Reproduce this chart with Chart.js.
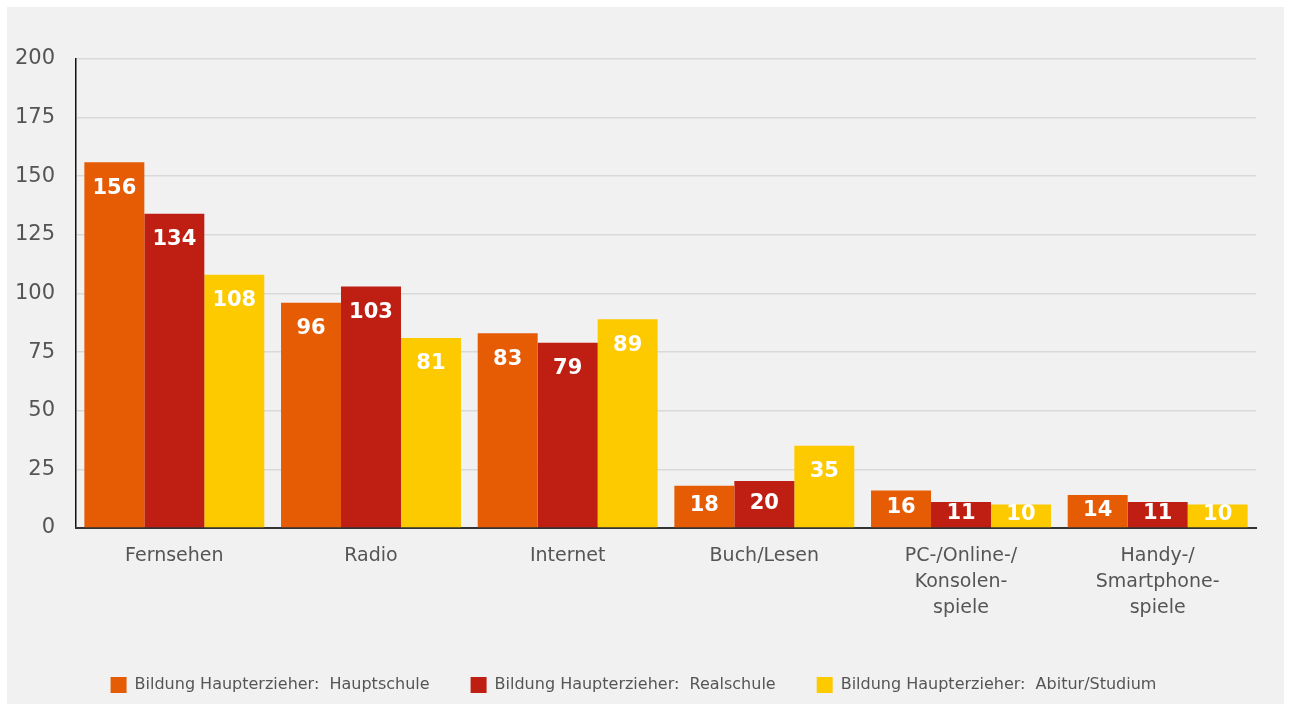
<!DOCTYPE html>
<html lang="de">
<head>
<meta charset="utf-8">
<title>Mediennutzung nach Bildung</title>
<script src="https://cdn.jsdelivr.net/npm/chart.js@4.4.1/dist/chart.umd.min.js"></script>
<style>
    html, body { margin: 0; padding: 0; background: #ffffff; }
    .panel {
        position: absolute;
        left: 7px; top: 7px;
        width: 1277px; height: 697px;
        background: #f1f1f1;
    }
    canvas { display: block; }
</style>
</head>
<body>
<div class="panel"><canvas id="chart" width="1277" height="697"></canvas></div>
<script>
const categories = [
    'Fernsehen',
    'Radio',
    'Internet',
    'Buch/Lesen',
    ['PC-/Online-/', 'Konsolen-', 'spiele'],
    ['Handy-/', 'Smartphone-', 'spiele']
];
const seriesNames = [
    'Bildung Haupterzieher:  Hauptschule',
    'Bildung Haupterzieher:  Realschule',
    'Bildung Haupterzieher:  Abitur/Studium'
];
const hauptschule = [156, 96, 83, 18, 16, 14];
const realschule = [134, 103, 79, 20, 11, 11];
const abitur = [108, 81, 89, 35, 10, 10];
const colors = ['#e65c05', '#be1f12', '#fdca00'];

const FONT = "'DejaVu Sans', sans-serif";

// white value labels inside each bar, near its top
const valueLabels = {
    id: 'valueLabels',
    afterDatasetsDraw(chart) {
        const ctx = chart.ctx;
        ctx.save();
        ctx.fillStyle = '#ffffff';
        ctx.font = 'bold 21px ' + FONT;
        ctx.textAlign = 'center';
        ctx.textBaseline = 'middle';
        chart.data.datasets.forEach((ds, i) => {
            chart.getDatasetMeta(i).data.forEach((bar, j) => {
                const y = Math.min(bar.y + 26, (bar.y + bar.base) / 2 - 1);
                ctx.fillText(String(ds.data[j]), bar.x, y);
            });
        });
        ctx.restore();
    }
};

const datasets = [hauptschule, realschule, abitur].map((values, i) => ({
    label: seriesNames[i],
    data: values,
    backgroundColor: colors[i],
    borderWidth: 0,
    categoryPercentage: 0.915,
    barPercentage: 1.0
}));

new Chart(document.getElementById('chart'), {
    type: 'bar',
    data: { labels: categories, datasets: datasets },
    plugins: [valueLabels],
    options: {
        responsive: false,
        animation: false,
        layout: { padding: { left: 4, right: 28, top: 52, bottom: 1 } },
        plugins: {
            tooltip: { enabled: false },
            legend: {
                position: 'bottom',
                labels: {
                    boxWidth: 16,
                    boxHeight: 16,
                    padding: 41,
                    color: '#555555',
                    font: { family: FONT, size: 16 }
                }
            }
        },
        scales: {
            y: {
                min: 0,
                max: 200,
                afterFit(scale) { scale.width = 65; },
                ticks: {
                    stepSize: 25,
                    padding: 21,
                    color: '#555555',
                    font: { family: FONT, size: 21 }
                },
                grid: { color: '#d9d9d9', lineWidth: 1.5, drawTicks: false },
                border: { color: '#111111', width: 1.5 }
            },
            x: {
                ticks: {
                    padding: 15,
                    color: '#555555',
                    font: { family: FONT, size: 19, lineHeight: 1.37 }
                },
                grid: { display: false, drawTicks: false },
                border: { color: '#333333', width: 2 }
            }
        }
    }
});
</script>
</body>
</html>
